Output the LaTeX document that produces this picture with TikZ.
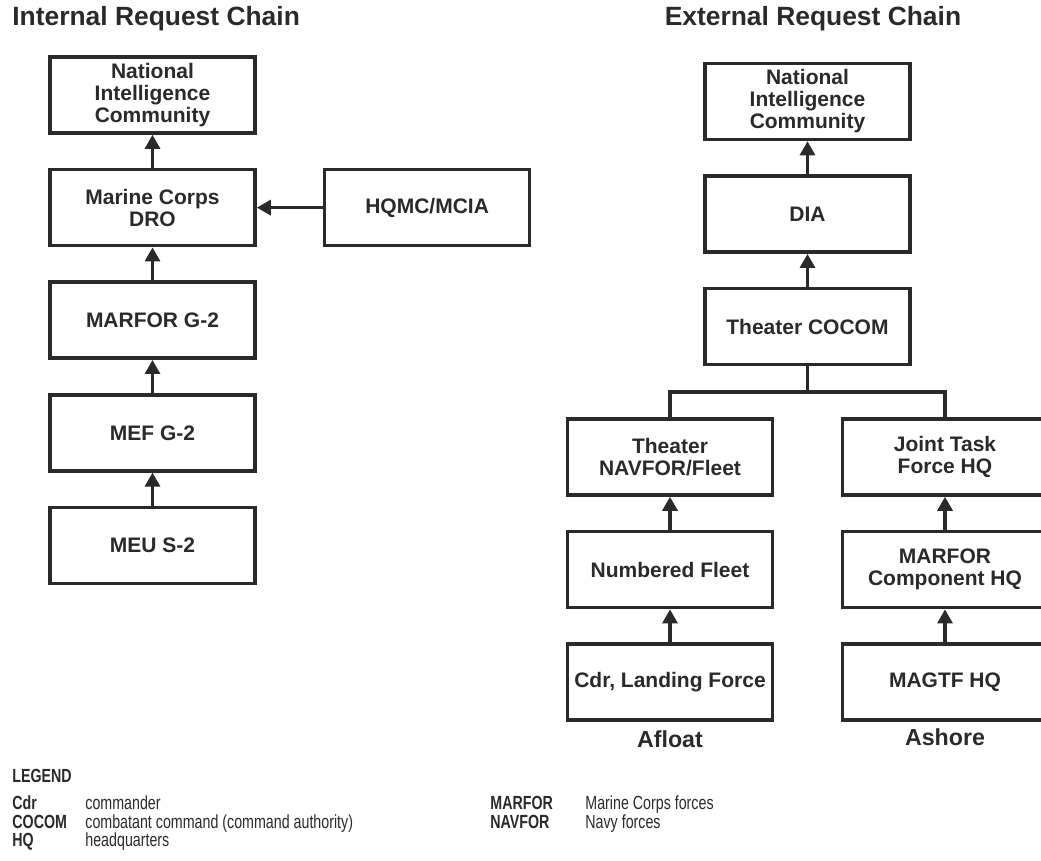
\documentclass[tikz,border=0pt]{standalone}
\usepackage{fontspec}
\setmainfont{Liberation Sans}
\newfontfamily\narrowfont[FakeStretch=0.75]{Liberation Sans}
\usepackage{xcolor}
\definecolor{ink}{HTML}{2A2A2A}
\usetikzlibrary{arrows.meta,positioning}

\newcommand{\abbr}[1]{\textbf{#1}}

\begin{document}
\begin{tikzpicture}[
    x=0.5pt, y=-0.5pt,
    node distance=16.5pt,
    unit/.style={rectangle, draw=ink, line width=1.8pt, fill=white, text=ink, minimum width=102.5pt, minimum height=38pt, inner sep=1pt, align=center, font=\fontsize{10.5}{11}\selectfont\bfseries},
    up/.style={-{Triangle[width=7.5pt,length=7pt]}, line width=1.6pt, draw=ink},
    link/.style={line width=1.6pt, draw=ink},
    heading/.style={inner sep=0pt, text=ink, font=\fontsize{13.2}{15}\selectfont\bfseries},
    caption/.style={text=ink, font=\fontsize{11.6}{13}\selectfont\bfseries},
    legendtext/.style={inner sep=0pt, anchor=base west, text=ink, font=\fontsize{9.5}{7.2}\narrowfont}
]
\useasboundingbox (0,0) rectangle (1041,861);

% Titles
\node[heading, anchor=west] (intTitle) at (12,19) {Internal Request Chain};
\node[heading] (extTitle) at (813,19) {External Request Chain};

% Internal chain
\node[unit] (nicA) at (152.5,95) {National\\Intelligence\\Community};
\node[unit, below=of nicA] (dro) {Marine Corps\\DRO};
\node[unit, below=of dro] (marforG) {MARFOR G-2};
\node[unit, below=of marforG] (mef) {MEF G-2};
\node[unit, below=of mef] (meu) {MEU S-2};
\node[unit, right=33pt of dro] (hqmc) {HQMC/MCIA};

% External chain
\node[unit] (nicB) at (807.5,101.5) {National\\Intelligence\\Community};
\node[unit, below=of nicB] (dia) {DIA};
\node[unit, below=of dia] (cocom) {Theater COCOM};
\coordinate (fork) at (807.5,392);

% Afloat branch
\node[unit] (navfor) at (670,457) {Theater\\NAVFOR/Fleet};
\node[unit, below=of navfor] (fleet) {Numbered Fleet};
\node[unit, below=of fleet] (cdrlf) {Cdr, Landing Force};
\node[caption, below=1pt of cdrlf] (afloat) {Afloat};

% Ashore branch
\node[unit] (jtf) at (945,457) {Joint Task\\Force HQ};
\node[unit, below=of jtf] (marforHQ) {MARFOR\\Component HQ};
\node[unit, below=of marforHQ] (magtf) {MAGTF HQ};
\node[caption, below=0pt of magtf] (ashore) {Ashore};

% Arrows
\draw[up] (dro) -- (nicA);
\draw[up] (marforG) -- (dro);
\draw[up] (mef) -- (marforG);
\draw[up] (meu) -- (mef);
\draw[up] (hqmc) -- (dro);
\draw[up] (dia) -- (nicB);
\draw[up] (cocom) -- (dia);
\draw[link] (cocom) -- (fork);
\draw[link] (navfor.north) |- (fork) -| (jtf.north);
\draw[up] (fleet) -- (navfor);
\draw[up] (cdrlf) -- (fleet);
\draw[up] (marforHQ) -- (jtf);
\draw[up] (magtf) -- (marforHQ);

% Legend
\node[legendtext] (legend) at (12,783) {\abbr{LEGEND}};
\node[legendtext] (legendL) at (12,810) {%
  \begin{tabular}[t]{@{}p{36.5pt}@{}l@{}}
    \abbr{Cdr}   & commander\\
    \abbr{COCOM} & combatant command (command authority)\\
    \abbr{HQ}    & headquarters
  \end{tabular}};
\node[legendtext] (legendR) at (490,810) {%
  \begin{tabular}[t]{@{}p{47.5pt}@{}l@{}}
    \abbr{MARFOR} & Marine Corps forces\\
    \abbr{NAVFOR} & Navy forces
  \end{tabular}};

\end{tikzpicture}
\end{document}
